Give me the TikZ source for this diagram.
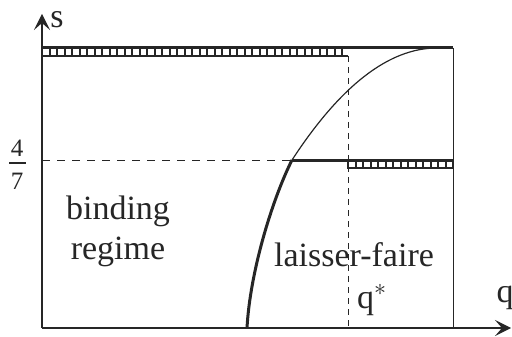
\documentclass[tikz,border=0pt]{standalone}
\usepackage{fontspec}
\setmainfont{Liberation Serif}
\usetikzlibrary{arrows.meta}
\begin{document}
\begin{tikzpicture}[x=0.5pt,y=-0.5pt,
  ink/.style={black!85},
  axis/.style={ink, line width=0.6pt, -{Stealth[length=8pt,width=8pt,inset=3.5pt]}},
  thickline/.style={ink, line width=1.5pt},
  thinline/.style={ink, line width=0.5pt},
  tick/.style={ink, line width=1pt},
  dashv/.style={ink, line width=0.5pt, dash pattern=on 3pt off 2.5pt},
  dashh/.style={ink, line width=0.5pt, dash pattern=on 4pt off 3.5pt},
  lab/.style={text=black!85, font=\fontsize{17}{20}\selectfont, inner sep=0pt},
  frac/.style={text=black!85, font=\fontsize{12.5}{14}\selectfont, inner sep=0pt}]
\useasboundingbox (0,0) rectangle (512,336);
% coordinates
\coordinate (O) at (42,328);
\coordinate (Ytop) at (42,14);
\coordinate (Xend) at (511,328);
\coordinate (TL) at (42,48);
\coordinate (TR) at (453,48);
\coordinate (BR) at (453,328);
\coordinate (Qtop) at (348,56);
\coordinate (Qbot) at (348,328);
\coordinate (K) at (292,160);
\coordinate (Kleft) at (42,160);
\coordinate (Lend) at (453,160);
\coordinate (Cbot) at (247,328);
\coordinate (T) at (437,48);
% axes
\draw[axis] (O) -- (Ytop);
\draw[axis] (O) -- (Xend);
% box right side
\draw[thinline] (TR) -- (BR);
% dashed lines
\draw[dashv] (Qtop) -- (Qbot);
\draw[dashh] (Kleft) -- (K);
% top hatched strip
\draw[thinline, line width=0.7pt] (42,56) -- (348,56);
\foreach \i in {0,...,40} { \draw[tick] ({42+\i*7.5},48) -- ({42+\i*7.5},56.5); }
% lower hatched strip
\draw[thinline, line width=0.7pt] (348,168) -- (453,168);
\foreach \i in {0,...,14} { \draw[tick] ({348+\i*7.5},160) -- ({348+\i*7.5},168.5); }
% thick lines
\draw[thickline] (TL) -- (TR);
\draw[thickline] (K) -- (Lend);
% curves
\draw[thinline, line width=0.6pt] (K) .. controls (340.3,86) and (388.7,48) .. (T);
\draw[thickline] (Cbot) .. controls (250,272) and (272,200) .. (K);
% labels
\node[lab] (s) at (57,20) {s};
\node[lab] (q) at (505,298) {q};
\node[lab] (qs) at (372,300) {q$^*$};
\node[lab] (lf) at (354,255) {laisser-faire};
\node[lab, align=center] (br) at (118,231) {binding\\regime};
\node[frac] (n4) at (17,148) {4};
\node[frac] (n7) at (17,181) {7};
\draw[ink, line width=0.7pt] (9,163) -- (26,163);
\end{tikzpicture}
\end{document}
